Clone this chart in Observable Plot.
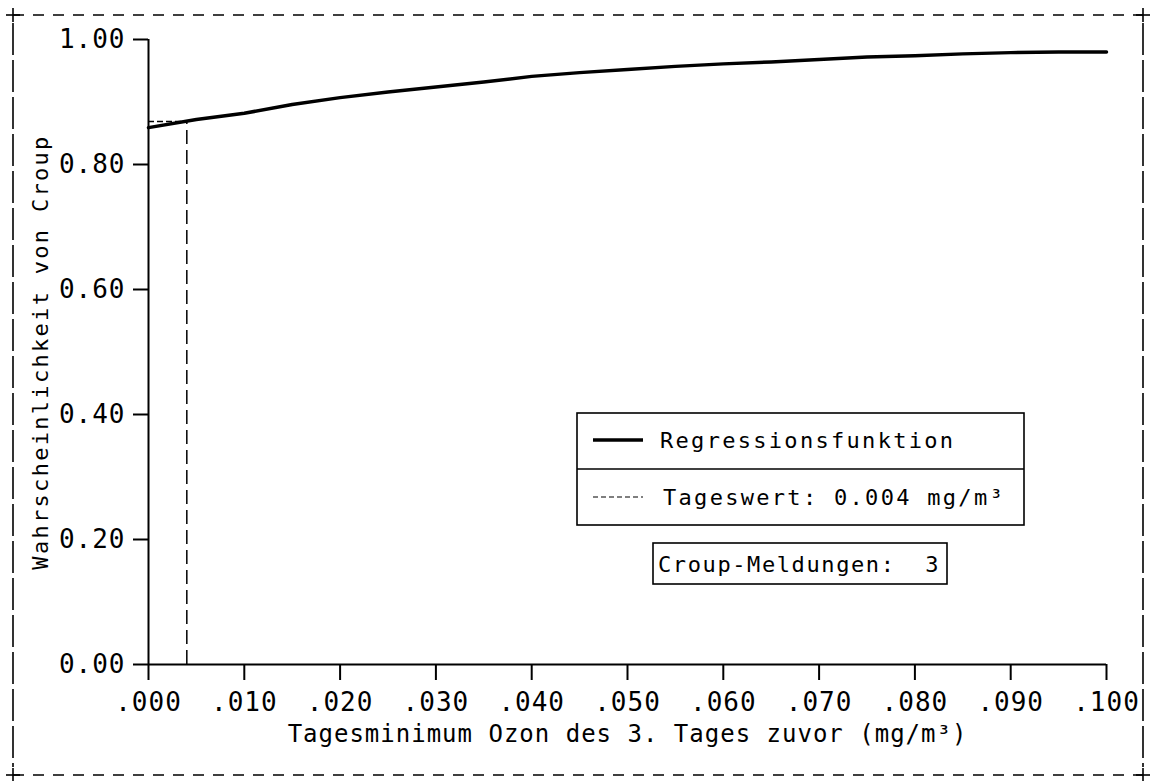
<!DOCTYPE html>
<html>
<head>
<meta charset="utf-8">
<script src="https://cdn.jsdelivr.net/npm/d3@7"></script>
<script src="https://cdn.jsdelivr.net/npm/@observablehq/plot@0.6"></script>
<style>
html, body { margin: 0; padding: 0; background: #fff; }
#chart svg text { letter-spacing: 1px; }
#chart svg text.ls2, #chart svg .ls2 text { letter-spacing: 2.3px; }
#chart svg text.ls1 { letter-spacing: 1.6px; }
</style>
</head>
<body>
<div id="chart"></div>
<script>
// ---- data ----
const ozon = [0.000, 0.005, 0.010, 0.015, 0.020, 0.025, 0.030, 0.035, 0.040, 0.045, 0.050,
              0.055, 0.060, 0.065, 0.070, 0.075, 0.080, 0.085, 0.090, 0.095, 0.100];
const prob = [0.859, 0.872, 0.882, 0.896, 0.907, 0.916, 0.924, 0.932, 0.941, 0.947, 0.952,
              0.957, 0.961, 0.964, 0.968, 0.972, 0.974, 0.977, 0.979, 0.980, 0.980];
const tageswert = 0.004;
const tageswertProb = 0.869;
const croupMeldungen = 3;
const xTicks = [0, 0.01, 0.02, 0.03, 0.04, 0.05, 0.06, 0.07, 0.08, 0.09, 0.1];
const yTicks = [0, 0.2, 0.4, 0.6, 0.8, 1.0];
const xTitle = "Tagesminimum Ozon des 3. Tages zuvor (mg/m³)";
const yTitle = "Wahrscheinlichkeit von Croup";
const legendLabels = ["Regressionsfunktion", "Tageswert: 0.004 mg/m³"];
const meldungLabel = "Croup-Meldungen:  " + croupMeldungen;

const data = ozon.map((x, i) => ({x, p: prob[i]}));
const font = "'DejaVu Sans Mono', 'Liberation Mono', monospace";

const W = 1150, H = 781;
const chart = Plot.plot({
  width: W,
  height: H,
  marginLeft: 148,
  marginRight: 44,
  marginTop: 39,
  marginBottom: 117,
  style: {fontFamily: font, fontSize: "26px", background: "#fff", color: "#000", overflow: "visible"},
  x: {domain: [0, 0.1]},
  y: {domain: [0, 1]},
  marks: [
    Plot.axisX({ticks: xTicks, tickSize: 16, tickPadding: 12, strokeWidth: 2,
                tickFormat: d => d.toFixed(3).replace(/^0/, ""), label: null}),
    Plot.axisY({ticks: yTicks, tickSize: 15, tickPadding: 8, strokeWidth: 2,
                tickFormat: d => d.toFixed(2), label: null}),
    Plot.ruleY([0], {x1: () => 0, x2: () => 0.1, strokeWidth: 2}),
    Plot.ruleX([0], {y1: () => 0, y2: () => 1, strokeWidth: 2}),
    Plot.ruleX([tageswert], {y1: () => 0, y2: () => tageswertProb, strokeWidth: 1.5, strokeDasharray: "14,6"}),
    Plot.ruleY([tageswertProb], {x1: () => 0, x2: () => tageswert, strokeWidth: 1.5, strokeDasharray: "6,3"}),
    Plot.line(data, {x: "x", y: "p", strokeWidth: 3.5}),
    Plot.text([xTitle], {text: d => d, frameAnchor: "bottom", dy: 70, fontSize: 24, lineAnchor: "middle", textAnchor: "middle"}),
    Plot.text([yTitle], {text: d => d, frameAnchor: "left", rotate: -90, dx: -108, fontSize: 22, lineAnchor: "middle", textAnchor: "middle", className: "ls2"})
  ]
});
document.getElementById("chart").appendChild(chart);

// ---- decoration: dashed page frame, legend boxes ----
const svg = d3.select(chart);
const deco = svg.append("g").attr("fill", "none").attr("stroke", "#000");
const L = 13, R = 1143, T = 15, B = 775;
deco.append("line").attr("x1", L).attr("x2", R).attr("y1", T).attr("y2", T).attr("stroke-width", 1.6).attr("stroke-dasharray", "11,9");
deco.append("line").attr("x1", L).attr("x2", R).attr("y1", B).attr("y2", B).attr("stroke-width", 1.6).attr("stroke-dasharray", "11,9");
deco.append("line").attr("x1", L).attr("x2", L).attr("y1", T + 8).attr("y2", B - 8).attr("stroke-width", 1.6).attr("stroke-dasharray", "32,5");
deco.append("line").attr("x1", R).attr("x2", R).attr("y1", T + 8).attr("y2", B - 8).attr("stroke-width", 1.6).attr("stroke-dasharray", "32,5");
for (const [cx, cy] of [[L, T], [R, T], [L, B], [R, B]]) {
  deco.append("line").attr("x1", cx - 7).attr("x2", cx + 7).attr("y1", cy).attr("y2", cy).attr("stroke-width", 1.6);
  deco.append("line").attr("x1", cx).attr("x2", cx).attr("y1", cy - 7).attr("y2", cy + 7).attr("stroke-width", 1.6);
}

const leg = svg.append("g").attr("text-anchor", "start");
leg.append("rect").attr("x", 577).attr("y", 413).attr("width", 447).attr("height", 112)
  .attr("fill", "#fff").attr("stroke", "#000").attr("stroke-width", 1.6);
leg.append("line").attr("x1", 577).attr("x2", 1024).attr("y1", 469).attr("y2", 469)
  .attr("stroke", "#000").attr("stroke-width", 1.6);
leg.append("line").attr("x1", 593).attr("x2", 643).attr("y1", 440).attr("y2", 440)
  .attr("stroke", "#000").attr("stroke-width", 3.5);
leg.append("line").attr("x1", 593).attr("x2", 643).attr("y1", 497).attr("y2", 497)
  .attr("stroke", "#000").attr("stroke-width", 1.2).attr("stroke-dasharray", "5,3");
const tx = (x, y, s, cls) => leg.append("text").attr("x", x).attr("y", y).attr("class", cls)
  .attr("text-anchor", "start")
  .attr("font-family", font).attr("font-size", 22).attr("fill", "#000")
  .attr("xml:space", "preserve").style("white-space", "pre").text(s);
tx(660, 448, legendLabels[0], "ls2");
tx(663, 505, legendLabels[1], "ls2");
leg.append("rect").attr("x", 653).attr("y", 543).attr("width", 294).attr("height", 41)
  .attr("fill", "#fff").attr("stroke", "#000").attr("stroke-width", 1.6);
tx(658, 572, meldungLabel, "ls1");
</script>
</body>
</html>
